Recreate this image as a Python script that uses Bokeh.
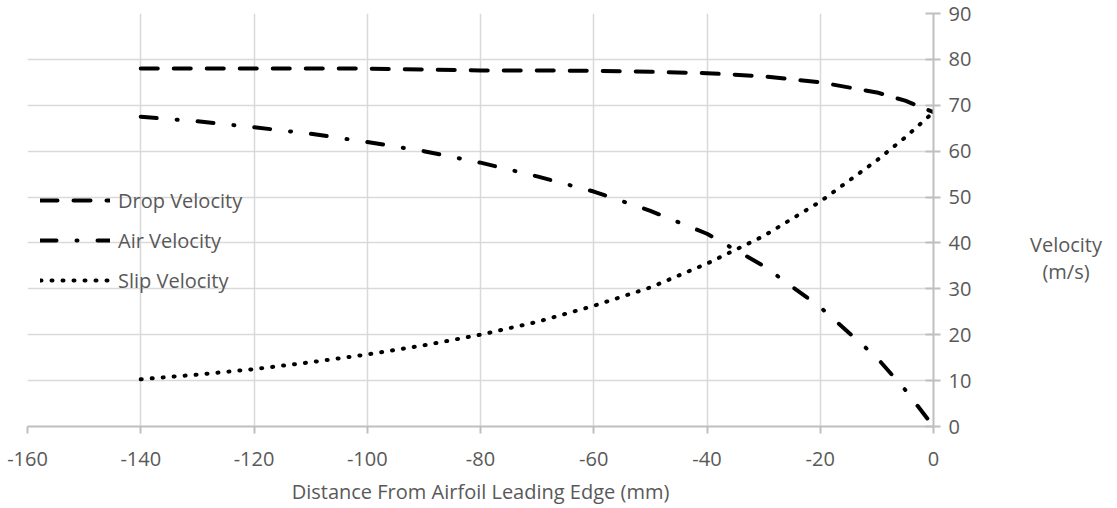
from bokeh.plotting import figure
from bokeh.models import LinearAxis, Range1d, Legend, LegendItem, FixedTicker, Div
from bokeh.layouts import row
from bokeh.embed import file_html
from bokeh.resources import INLINE

distance = [-140, -130, -120, -110, -100, -90, -80, -70, -60, -50, -40, -30, -20, -10, -5, 0]
drop_velocity = [78, 78, 78, 78, 78, 77.8, 77.6, 77.6, 77.5, 77.3, 77, 76.3, 75, 72.8, 71, 68.5]
air_velocity = [67.5, 66.5, 65.2, 63.8, 62, 60, 57.5, 54.5, 51.2, 47, 42, 35, 26, 15, 8, 0]
slip_velocity = [10.3, 11.3, 12.5, 14, 15.7, 17.7, 20, 22.8, 26.3, 30.3, 35.5, 41.5, 49, 58, 63, 68.5]
x_ticks = [-160, -140, -120, -100, -80, -60, -40, -20, 0]
y_ticks = [0, 10, 20, 30, 40, 50, 60, 70, 80, 90]

FONT = "Open Sans"
FS = "20px"
TXT = "#595959"
GRID = "#d9d9d9"
AXIS = "#bfbfbf"

p = figure(width=1010, height=508, output_backend="svg", toolbar_location=None,
           x_range=Range1d(-160, 0), y_range=Range1d(0, 90),
           x_axis_location=None, y_axis_location=None,
           min_border_left=27, min_border_right=77, min_border_top=13, min_border_bottom=82)
p.outline_line_color = None
p.background_fill_color = "white"
p.border_fill_color = "white"

xaxis = LinearAxis(ticker=FixedTicker(ticks=x_ticks))
xaxis.major_label_overrides = {t: str(t) for t in x_ticks}
xaxis.axis_line_color = AXIS
xaxis.axis_line_width = 2
xaxis.major_tick_line_color = AXIS
xaxis.major_tick_line_width = 2
xaxis.major_tick_out = 7
xaxis.major_tick_in = 0
xaxis.minor_tick_line_color = None
xaxis.major_label_text_font = FONT
xaxis.major_label_text_font_size = FS
xaxis.major_label_text_color = TXT
xaxis.major_label_standoff = 18
xaxis.axis_label = "Distance From Airfoil Leading Edge (mm)"
xaxis.axis_label_text_font = FONT
xaxis.axis_label_text_font_size = FS
xaxis.axis_label_text_font_style = "normal"
xaxis.axis_label_text_color = TXT
xaxis.axis_label_standoff = 9
p.add_layout(xaxis, "below")

yaxis = LinearAxis(ticker=FixedTicker(ticks=y_ticks))
yaxis.axis_line_color = AXIS
yaxis.axis_line_width = 2
yaxis.major_tick_line_color = AXIS
yaxis.major_tick_line_width = 2
yaxis.major_tick_out = 7
yaxis.major_tick_in = 8
yaxis.minor_tick_line_color = None
yaxis.major_label_text_font = FONT
yaxis.major_label_text_font_size = FS
yaxis.major_label_text_color = TXT
yaxis.major_label_standoff = 8
p.add_layout(yaxis, "right")

p.xgrid.ticker = FixedTicker(ticks=x_ticks)
p.ygrid.ticker = FixedTicker(ticks=y_ticks)
for g in (p.xgrid, p.ygrid):
    g.grid_line_color = GRID
    g.grid_line_width = 1.5

r_drop = p.line(distance, drop_velocity, line_color="black", line_width=4,
                line_dash="17 16", line_cap="round")
r_air = p.line(distance, air_velocity, line_color="black", line_width=4,
               line_dash="16 20 1 20", line_cap="round")
r_slip = p.line(distance, slip_velocity, line_color="black", line_width=4,
                line_dash="1 10", line_cap="round")

legend = Legend(items=[
    LegendItem(label="Drop Velocity", renderers=[r_drop]),
    LegendItem(label="Air Velocity", renderers=[r_air]),
    LegendItem(label="Slip Velocity", renderers=[r_slip]),
], location=(13, 132))
legend.border_line_color = None
legend.background_fill_alpha = 0
legend.padding = 0
legend.margin = 0
legend.spacing = 12
legend.glyph_width = 70
legend.glyph_height = 28
legend.label_height = 28
legend.label_standoff = 8
legend.label_text_font = FONT
legend.label_text_font_size = FS
legend.label_text_color = TXT
p.add_layout(legend, "center")

y_title = Div(
    text=("<div style=\"padding-top:226px;line-height:27px;text-align:center;"
          "font-family:'Open Sans';font-size:20px;color:#595959;width:102px\">"
          "Velocity<br>(m/s)</div>"),
    width=107, height=508)

layout = row(p, y_title)
open("out.html", "w").write(file_html(layout, INLINE))
